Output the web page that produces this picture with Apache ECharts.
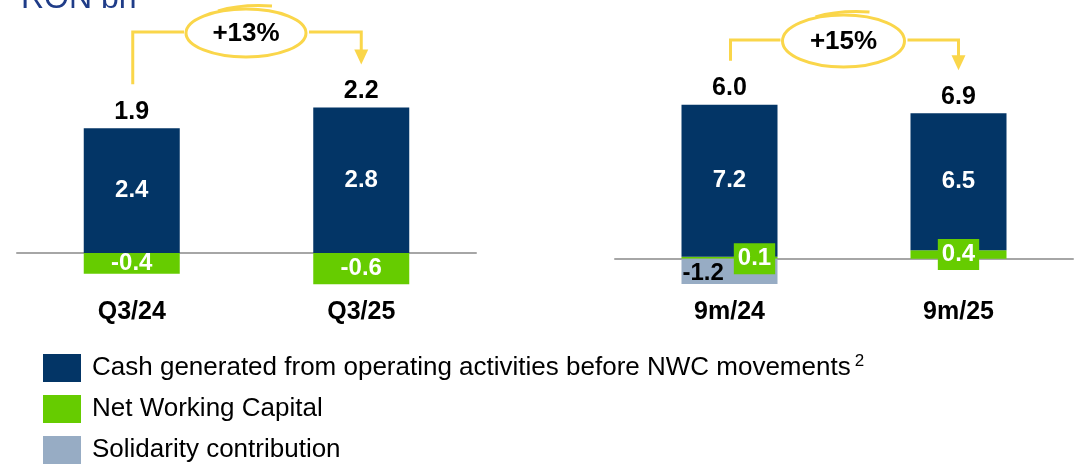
<!DOCTYPE html>
<html>
<head>
<meta charset="utf-8">
<script src="https://cdn.jsdelivr.net/npm/echarts@6/dist/echarts.min.js"></script>
<style>
  html, body { margin: 0; padding: 0; background: #fff; }
  #chart { width: 1084px; height: 466px; }
</style>
</head>
<body>
<div id="chart"></div>
<script>
// quarter panel
const quarters = ['Q3/24', 'Q3/25'];
const cashQuarter = [2.4, 2.8];
const nwcQuarter = [-0.4, -0.6];
const totalQuarter = [1.9, 2.2];
const growthQuarter = '+13%';

// nine months panel
const nineMonths = ['9m/24', '9m/25'];
const cashNine = [7.2, 6.5];
const nwcNine = [0.1, 0.4];
const solidarityNine = [-1.2, null];
const totalNine = [6.0, 6.9];
const growthNine = '+15%';

const legendNames = [
  'Cash generated from operating activities before NWC movements',
  'Net Working Capital',
  'Solidarity contribution'
];

const NAVY = '#033566';
const GREEN = '#66CC00';
const GREY = '#97ACC4';
const YELLOW = '#FAD64A';
const FONT = '"Liberation Sans", Arial, sans-serif';

const fmt = v => v.toFixed(1);
// top of the positive stack (where the total label sits)
const stackTop = (cash, nwc) => cash.map((c, i) => c + Math.max(nwc[i], 0));

const chart = echarts.init(document.getElementById('chart'));

const xAxisBase = {
  type: 'category',
  axisTick: { show: false },
  axisLine: { lineStyle: { color: '#A6A6A6', width: 2 } },
  axisLabel: { color: '#000', fontWeight: 'bold', fontSize: 25, fontFamily: FONT }
};

const insideLabel = {
  show: true, position: 'inside', color: '#fff',
  fontWeight: 'bold', fontSize: 24, fontFamily: FONT, formatter: p => fmt(p.value)
};

const totalLabel = totals => ({
  show: true, position: 'top', distance: 4, color: '#000',
  fontWeight: 'bold', fontSize: 25, fontFamily: FONT,
  formatter: p => fmt(totals[p.dataIndex])
});

const option = {
  animation: false,
  textStyle: { fontFamily: FONT },
  grid: [
    { left: 17, width: 459, top: 97, height: 208 },
    { left: 615, width: 458, top: 90, height: 211 }
  ],
  xAxis: [
    Object.assign({}, xAxisBase, { gridIndex: 0, data: quarters,
      axisLabel: Object.assign({}, xAxisBase.axisLabel, { margin: -5 }) }),
    Object.assign({}, xAxisBase, { gridIndex: 1, data: nineMonths,
      axisLabel: Object.assign({}, xAxisBase.axisLabel, { margin: -1 }) })
  ],
  yAxis: [
    { type: 'value', gridIndex: 0, min: -1, max: 3, show: false },
    { type: 'value', gridIndex: 1, min: -2, max: 8, show: false }
  ],
  legend: {
    orient: 'vertical', left: 43, top: 353, padding: 0,
    itemWidth: 38, itemHeight: 28, itemGap: 13, icon: 'rect',
    data: legendNames,
    formatter: name => name === legendNames[0] ? name + '{sup|2}' : name,
    textStyle: {
      color: '#000', fontSize: 26, fontFamily: FONT, padding: [0, 0, 0, 6],
      rich: { sup: { fontSize: 17, color: '#000', fontFamily: FONT, padding: [0, 0, 13, 4] } }
    }
  },
  series: [
    // left panel
    { name: legendNames[1], type: 'bar', xAxisIndex: 0, yAxisIndex: 0, stack: 'q',
      barWidth: 96, itemStyle: { color: GREEN }, data: nwcQuarter, label: insideLabel },
    { name: legendNames[0], type: 'bar', xAxisIndex: 0, yAxisIndex: 0, stack: 'q',
      barWidth: 96, itemStyle: { color: NAVY }, data: cashQuarter, label: insideLabel },
    { name: 'totalQ', type: 'scatter', xAxisIndex: 0, yAxisIndex: 0, symbolSize: 0, silent: true,
      itemStyle: { opacity: 1 },
      data: stackTop(cashQuarter, nwcQuarter), label: totalLabel(totalQuarter) },
    // right panel
    { name: legendNames[1], type: 'bar', xAxisIndex: 1, yAxisIndex: 1, stack: 'n',
      barWidth: 96, itemStyle: { color: GREEN },
      data: nwcNine.map((v, i) => ({
        value: v,
        label: {
          show: true, position: 'inside', offset: i === 0 ? [25, 1] : [0, 0],
          color: '#fff', backgroundColor: GREEN, padding: [4, 4, 3, 4],
          fontWeight: 'bold', fontSize: 24, fontFamily: FONT, formatter: p => fmt(p.value)
        }
      })) },
    { name: legendNames[0], type: 'bar', xAxisIndex: 1, yAxisIndex: 1, stack: 'n',
      barWidth: 96, itemStyle: { color: NAVY }, data: cashNine, label: insideLabel },
    { name: legendNames[2], type: 'bar', xAxisIndex: 1, yAxisIndex: 1, stack: 'n',
      barWidth: 96, itemStyle: { color: GREY }, data: solidarityNine,
      label: { show: true, position: 'insideLeft', distance: 1, offset: [0, 2], color: '#000',
        fontWeight: 'bold', fontSize: 24, fontFamily: FONT, formatter: p => fmt(p.value) } },
    { name: 'totalN', type: 'scatter', xAxisIndex: 1, yAxisIndex: 1, symbolSize: 0, silent: true,
      itemStyle: { opacity: 1 },
      data: stackTop(cashNine, nwcNine), label: totalLabel(totalNine) }
  ]
};

chart.setOption(option);

// growth brackets drawn from the bar positions
function bracket(seriesIndex, tops, lineY, rx, ry, text) {
  const a = chart.convertToPixel({ seriesIndex }, [0, tops[0]]);
  const b = chart.convertToPixel({ seriesIndex }, [1, tops[1]]);
  const x0 = a[0] + 1, x1 = b[0];
  const startY = a[1] - 44, tipY = b[1] - 43;
  const cx = (x0 + x1) / 2 - 1, cy = lineY + 1;
  const line = { stroke: YELLOW, lineWidth: 3, fill: null };
  return [
    { type: 'polyline', shape: { points: [[x0, startY], [x0, lineY], [cx - rx - 2, lineY]] }, style: line },
    { type: 'polyline', shape: { points: [[cx + rx + 3, lineY], [x1, lineY], [x1, tipY - 14]] }, style: line },
    { type: 'polygon', shape: { points: [[x1 - 7, tipY - 15], [x1 + 7, tipY - 15], [x1, tipY]] },
      style: { fill: YELLOW } },
    { type: 'ellipse', shape: { cx, cy, rx, ry }, style: line },
    { type: 'bezierCurve',
      shape: { x1: cx - 28, y1: cy - ry + 2, cpx1: cx - 5, cpy1: cy - ry - 5, x2: cx + 26, y2: cy - ry - 3 },
      style: line },
    { type: 'text', x: cx, y: cy + 1,
      style: { text, fill: '#000', font: 'bold 26px ' + FONT, align: 'center', verticalAlign: 'middle' } }
  ];
}

chart.setOption({
  graphic: [
    { type: 'text', x: 21, y: 15,
      style: { text: 'RON bn', fill: '#1F3C88', font: '32px ' + FONT, verticalAlign: 'bottom' } },
    ...bracket(2, stackTop(cashQuarter, nwcQuarter), 32, 60, 24, growthQuarter),
    ...bracket(6, stackTop(cashNine, nwcNine), 40, 61, 26, growthNine)
  ]
});
</script>
</body>
</html>
